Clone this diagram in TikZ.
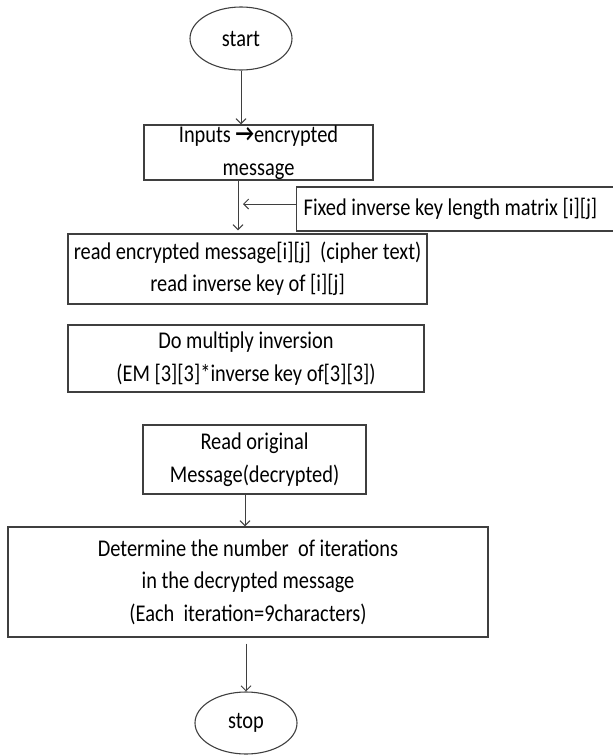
\documentclass[tikz,border=0pt]{standalone}
\usepackage{fontspec}
\setmainfont{Carlito}[FakeStretch=0.85]
\usetikzlibrary{arrows.meta,shapes.geometric}
\definecolor{ln}{HTML}{3F3F3F}
\tikzset{
  every node/.style={font=\fontsize{24}{32.5}\selectfont, text=black},
  stepbox/.style={draw=ln, line width=1.3pt, rectangle, inner sep=0pt, align=center},
  term/.style={draw=ln, line width=1.1pt, ellipse, inner sep=0pt},
  arr/.style={draw=ln, line width=1pt, -{Straight Barb[length=5pt,width=10pt]}}
}
\begin{document}
\begin{tikzpicture}[x=1pt,y=-1pt]
\useasboundingbox (0,0) rectangle (613,755);

% terminals
\node (start) [term, minimum width=102, minimum height=63] at (241,38.5) {start};
\node (stop)  [term, minimum width=102, minimum height=62] at (246,723) {stop};

% process boxes
\node (inp)  [stepbox, minimum width=229, minimum height=55] at (258.5,152.5)
  {Inputs \raisebox{1pt}{\textbf{→}}encrypted\\ message};
\node (fixed) [draw=ln, line width=1.3pt, rectangle, anchor=west, inner ysep=0pt,
  inner xsep=7pt, minimum height=44] at (296,209)
  {\makebox[315pt][l]{Fixed inverse key length matrix [i][j]}};
\node (rd)   [stepbox, minimum width=359, minimum height=70] at (247.5,269)
  {read encrypted message[i][j]\ \ (cipher text)\\ read inverse key of [i][j]};
\node (mul)  [stepbox, minimum width=356, minimum height=67] at (246,358.5)
  {Do multiply inversion\\ (EM [3][3]*inverse key of[3][3])};
\node (orig) [stepbox, minimum width=223, minimum height=69] at (254.5,459.5)
  {Read original\\ Message(decrypted)};
\node (iter) [stepbox, minimum width=480, minimum height=110] at (248,582)
  {Determine the number\ \ of iterations\\ in the decrypted message\\ (Each\ \ iteration=9characters)};

% junction points of the vertical flow lines
\coordinate (cx) at (238,0);
\coordinate (join) at (243,204);
\coordinate (dx) at (245,0);

% connectors
\draw[arr] (start) -- (start |- inp.north);
\draw[arr, shorten >=3pt] (cx |- inp.south) -- (cx |- rd.north);
\draw[arr] ([yshift=5pt]fixed.west) -- (join);
\draw[arr] (dx |- orig.south) -- (dx |- iter.north);
\draw[arr, shorten <=6pt] (stop |- iter.south) -- (stop.north);
\end{tikzpicture}
\end{document}
